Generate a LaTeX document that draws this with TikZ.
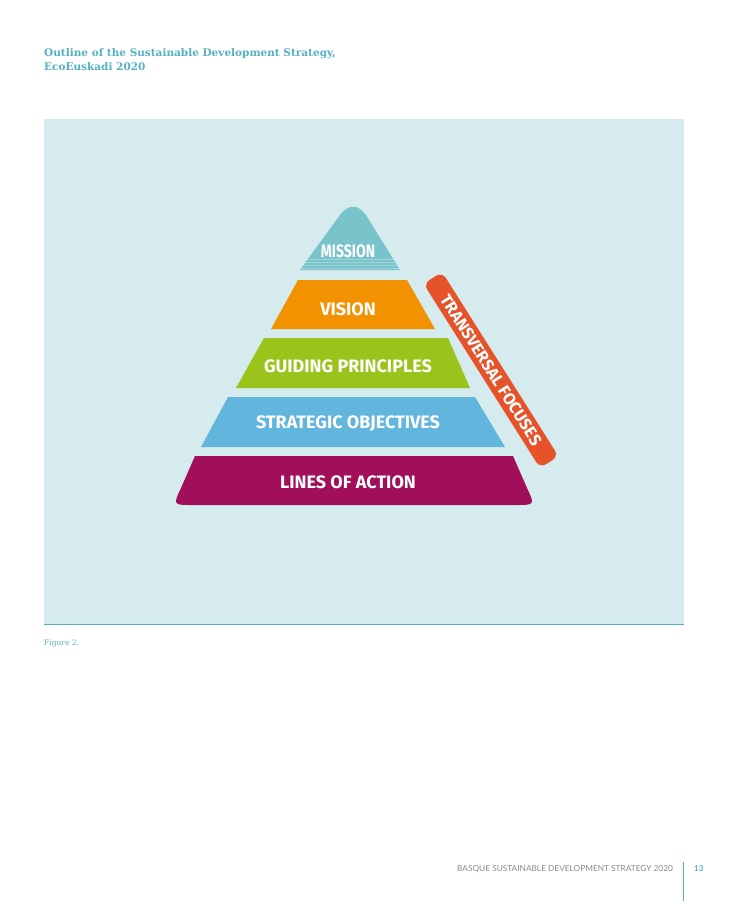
\documentclass[tikz,border=0pt]{standalone}
\usepackage{fontspec}
\setmainfont{DejaVu Serif}
\newfontfamily\rotulofont{Fira Sans}
\newfontfamily\piefont{Lato}
\usetikzlibrary{positioning}
\definecolor{fondo}{HTML}{D5EBEE}
\definecolor{turquesa}{HTML}{55B0C3}
\definecolor{mision}{HTML}{79C4CB}
\definecolor{vision}{HTML}{F29200}
\definecolor{principios}{HTML}{9AC31C}
\definecolor{objetivos}{HTML}{62B6DE}
\definecolor{lineas}{HTML}{A10F5A}
\definecolor{transversal}{HTML}{E6532A}
\definecolor{gris}{HTML}{8A8A8A}
\begin{document}
\begin{tikzpicture}[x=1pt, y=-1pt,
      rotulo/.style={text=white, inner sep=0pt,
                     font=\rotulofont\bfseries\fontsize{18}{18}\selectfont},
      texto/.style={text=turquesa, inner sep=0pt, anchor=base west, align=left}]
    \useasboundingbox (0,0) rectangle (728,901);
    % panel
    \fill[fondo] (44,119) rectangle (684,624);
    \draw[turquesa, line width=1pt] (44,624) -- (684,624);
    \node[texto, font=\bfseries\fontsize{10.5}{14}\selectfont] (titulo) at (44,71)
      {Outline of the Sustainable Development Strategy,\\ EcoEuskadi 2020};
    \node[texto, font=\fontsize{7.5}{10}\selectfont] (figura) at (44,645) {Figure 2.};
    % piramide
    \fill[mision] (300,270) -- (340,215) .. controls (348,204) and (358,204) .. (366,215)
      -- (400,270) -- cycle;
    \begin{scope}
      \clip (300,270) -- (340,215) -- (366,215) -- (400,270) -- cycle;
      \foreach \y in {259,262,265,268}
        \draw[white, opacity=0.3, line width=0.5pt] (290,\y) -- (410,\y);
    \end{scope}
    \fill[vision] (298,280) -- (407,280) -- (435,329) -- (271,329) -- cycle;
    \fill[principios] (264,338) -- (448,338) -- (470,388) -- (236,388) -- cycle;
    \fill[objetivos] (228,397) -- (475,397) -- (505,447) -- (201,447) -- cycle;
    \fill[lineas] (195,456) -- (513,456) -- (527,488) .. controls (535,505) .. (515,505)
      -- (193,505) .. controls (173,505) .. (181,488) -- cycle;
    \node[rotulo, xscale=0.78] (mission) at (348,251) {MISSION};
    \node[rotulo] (vis) at (348,309) {VISION};
    \node[rotulo] (guiding) at (348,366) {GUIDING PRINCIPLES};
    \node[rotulo] (strategic) at (348,424) {STRATEGIC OBJECTIVES};
    \node[rotulo, fill=transversal, rounded corners=7pt, minimum width=218pt,
          minimum height=22pt, rotate=-57.7,
          font=\rotulofont\bfseries\fontsize{16.5}{16.5}\selectfont] (focus) at (491,370)
      {TRANSVERSAL FOCUSES};
    \node[rotulo] (lines) at (348,482) {LINES OF ACTION};
    % pie de pagina
    \node[text=gris, inner sep=0pt, anchor=base east, font=\piefont\fontsize{8.3}{9}\selectfont]
      (pie) at (673,871) {BASQUE SUSTAINABLE DEVELOPMENT STRATEGY 2020};
    \node[text=turquesa, inner sep=0pt, anchor=base west, font=\piefont\bfseries\fontsize{8}{9}\selectfont]
      (pagina) at (694,871) {13};
    \draw[turquesa, line width=0.8pt] (683,862) -- (683,901);
  \end{tikzpicture}
\end{document}
